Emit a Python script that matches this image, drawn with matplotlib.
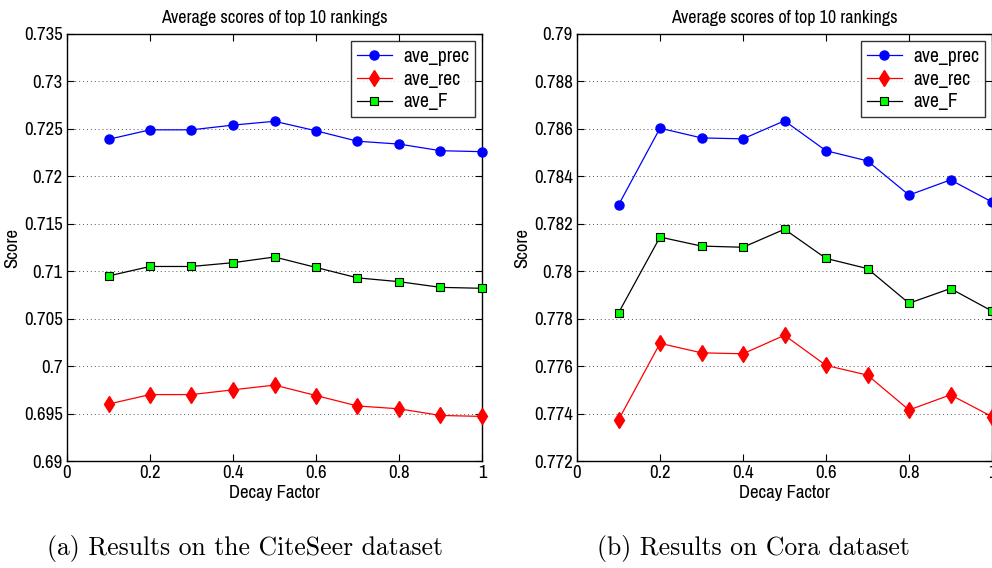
import numpy as np
import matplotlib
matplotlib.use("Agg")
import matplotlib.pyplot as plt
from matplotlib.ticker import FuncFormatter

# decay factor values shared by both datasets
decay = [0.1, 0.2, 0.3, 0.4, 0.5, 0.6, 0.7, 0.8, 0.9, 1.0]

# CiteSeer
cs_prec = [0.7239, 0.7249, 0.7249, 0.7254, 0.7258, 0.7248, 0.7237, 0.7234, 0.7227, 0.7226]
cs_rec = [0.6960, 0.6970, 0.6970, 0.6975, 0.6980, 0.6969, 0.6958, 0.6955, 0.6948, 0.6947]
cs_f = [0.7095, 0.7105, 0.7105, 0.7109, 0.7115, 0.7104, 0.7093, 0.7089, 0.7083, 0.7082]

# Cora
cora_prec = [0.78279, 0.78603, 0.78562, 0.78558, 0.78634, 0.78508, 0.78465, 0.78321, 0.78385, 0.78292]
cora_rec = [0.77373, 0.77696, 0.77656, 0.77652, 0.77730, 0.77603, 0.77562, 0.77415, 0.77479, 0.77387]
cora_f = [0.77824, 0.78144, 0.78106, 0.78101, 0.78177, 0.78054, 0.78011, 0.77865, 0.77927, 0.77832]

series_names = ["ave_prec", "ave_rec", "ave_F"]
title_text = "Average scores of top 10 rankings"
captions = ["(a) Results on the CiteSeer dataset", "(b) Results on Cora dataset"]

plt.rcParams['font.family'] = ['Liberation Sans Narrow', 'Arial Narrow', 'Archivo Narrow',
                               'Liberation Sans', 'DejaVu Sans']

W, H = 992, 568
fig = plt.figure(figsize=(W / 100, H / 100), dpi=100)


def px_axes(left, top, right, bottom):
    return fig.add_axes([left / W, 1 - bottom / H, (right - left) / W, (bottom - top) / H])


def draw_panel(ax, prec, rec, f, ylim, ystep):
    ax.plot(decay, prec, color='blue', lw=0.9, marker='o', ms=6.5,
            mfc='blue', mec='blue', label=series_names[0], clip_on=False, zorder=3)
    ax.plot(decay, rec, color='red', lw=0.9, marker='d', ms=8.5,
            mfc='red', mec='red', label=series_names[1], clip_on=False, zorder=3)
    ax.plot(decay, f, color='black', lw=0.9, marker='s', ms=5.3,
            mfc='#00ff00', mec='black', mew=0.8, label=series_names[2], clip_on=False, zorder=3)
    ax.set_xlim(0, 1)
    ax.set_ylim(*ylim)
    ax.set_xticks(np.arange(0, 1.01, 0.2))
    ax.set_yticks(np.arange(ylim[0], ylim[1] + ystep / 2, ystep))
    fmt = FuncFormatter(lambda v, p: ('%.4f' % v).rstrip('0').rstrip('.'))
    ax.xaxis.set_major_formatter(fmt)
    ax.yaxis.set_major_formatter(fmt)
    ax.tick_params(direction='in', top=True, right=True, length=5, width=0.8,
                   labelsize=13.5, pad=3)
    ax.yaxis.grid(True, linestyle=(0, (1, 3)), color='#555555', lw=0.7)
    for s in ax.spines.values():
        s.set_linewidth(1.0)
    ax.set_title(title_text, fontsize=13, pad=8)
    ax.set_xlabel("Decay Factor", fontsize=13.5, labelpad=3)
    ax.set_ylabel("Score", fontsize=13.5, labelpad=3)
    leg = ax.legend(loc='upper right', fontsize=14, frameon=True, fancybox=False,
                    edgecolor='black', borderaxespad=0.35, handlelength=1.8,
                    borderpad=0.3, labelspacing=0.2, handletextpad=0.6)
    leg.get_frame().set_linewidth(1.0)


ax1 = px_axes(67, 34, 482, 461)
draw_panel(ax1, cs_prec, cs_rec, cs_f, (0.69, 0.735), 0.005)

ax2 = px_axes(577, 34, 992, 461)
draw_panel(ax2, cora_prec, cora_rec, cora_f, (0.772, 0.79), 0.002)

fig.text(245 / W, 1 - 548 / H, captions[0], family='cmr10', fontsize=18.5,
         ha='center', va='center')
fig.text(753 / W, 1 - 548 / H, captions[1], family='cmr10', fontsize=18.5,
         ha='center', va='center')

fig.savefig("out.png", dpi=100)
